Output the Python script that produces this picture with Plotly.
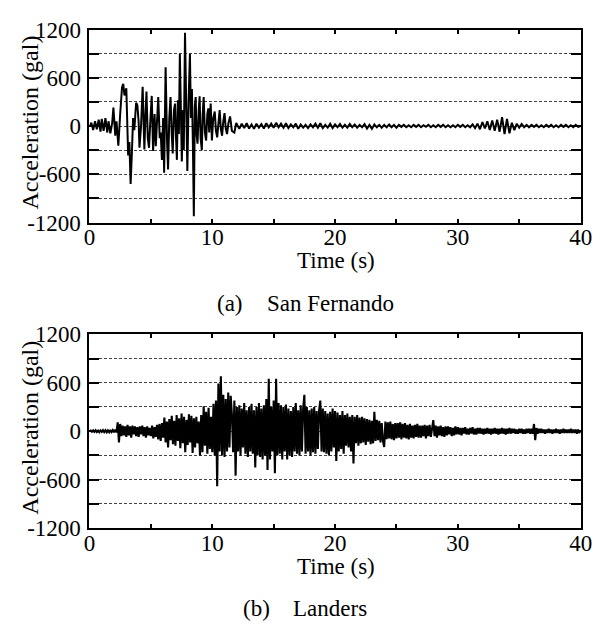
import plotly.graph_objects as go

# ---------------- data ----------------
# (a) San Fernando: strong-motion part, read peak by peak (time s, acceleration gal)
sf_t_strong = [0.0, 0.15, 0.3, 0.45, 0.6, 0.75, 0.9, 1.0, 1.15, 1.3,
               1.45, 1.55, 1.7, 1.85, 1.95, 2.1, 2.2, 2.35, 2.5, 2.65,
               2.75, 2.85, 3.0, 3.08, 3.15, 3.25, 3.35, 3.45, 3.55, 3.65,
               3.8, 3.9, 4.0, 4.07, 4.2, 4.33, 4.47, 4.55, 4.64, 4.75,
               4.85, 4.95, 5.07, 5.18, 5.3, 5.4, 5.5, 5.6, 5.72, 5.8,
               5.9, 6.0, 6.08, 6.2, 6.32, 6.4, 6.5, 6.6, 6.7, 6.78,
               6.88, 6.97, 7.05, 7.12, 7.2, 7.28, 7.36, 7.45, 7.52, 7.6,
               7.68, 7.78, 7.88, 7.97, 8.07, 8.18, 8.26, 8.34, 8.42, 8.5,
               8.58, 8.65, 8.72, 8.8, 8.9, 8.97, 9.05, 9.15, 9.22, 9.3,
               9.4, 9.5, 9.6, 9.68, 9.75, 9.87, 9.97, 10.08, 10.2, 10.3,
               10.4, 10.5, 10.6, 10.7, 10.8, 10.9, 11.0, 11.1, 11.2, 11.32,
               11.45, 11.6, 11.8, 11.95]
sf_a_strong = [0, 40, -50, 60, -40, 80, -70, 90, -60, 100,
               -80, 60, -90, 40, 230, -120, 60, -245, 150, 480,
               525, 380, 470, -100, -365, -200, -720, -350, 100, -50,
               290, 260, 60, -270, 0, 490, -290, 100, 430, -150,
               -270, 50, 375, -310, 150, -250, 100, 360, -150, -80,
               -420, 100, -580, 730, -200, -540, 100, 360, -100, -340,
               200, 280, -150, -420, 320, -100, 900, -200, -440, 200,
               -300, 1160, -100, -560, 300, 900, 100, 460, -200, -1120,
               250, 360, -100, -220, 200, 370, -150, -300, 150, 360,
               -80, -180, 150, 220, -80, 280, -180, 100, 180, -60,
               -140, 80, 200, -40, -120, 60, 160, -30, -100, 40,
               120, -60, -80, 40]
# (a) San Fernando: quiet tail, sampled every 0.2 s from 12.0 s to 40.0 s
sf_tail_start = 12.0
sf_tail_dt = 0.2
sf_a_tail = [25, -35, 30, -25, 35, -30, 20, -35, 30, -20, 25, -30, 35, -15, 30,
             -20, 40, -15, 30, -20, 35, -25, 20, -15, 30, -35, 20, -20, 15, -25,
             20, -15, 30, -20, 35, -25, 15, -20, 30, -25, 20, -15, 25, -20, 15,
             -20, 25, -15, 20, -20, 15, -15, 25, -30, 15, -35, 20, -15, 15, -20,
             15, -15, 20, -15, 15, -20, 15, -10, 15, -15, 10, -15, 15, -10, 15,
             -15, 10, -10, 15, -15, 10, -15, 15, -10, 15, -15, 10, -15, 10, -15,
             15, -10, 15, -15, 10, -15, 20, -25, 30, -40, 50, -30, 60, -50, 70,
             -60, 80, -70, 110, -100, 90, -90, 40, -50, 30, -20, 25, -15, 15, -15,
             15, -10, 15, -15, 10, -15, 15, -10, 15, -15, 10, -15, 15, -10, 15,
             -15, 10, -15, 15, -10, 0]

# (b) Landers: sampled every 0.1 s from 0 s to 40 s
la_dt = 0.1
la_a = [
    0, 8, -6, 10, -8, 12, -10, 8, -12, 10,
    -8, 14, -10, 12, -14, 10, -12, 16, -10, 14,
    -12, 18, -15, 110, -140, 90, -60, 70, -50, 60,
    -70, 80, -50, 60, -80, 70, -40, 60, -60, 50,
    -70, 60, -40, 70, -60, 50, -80, 60, -50, 40,
    -60, 70, -90, 50, -70, 80, -100, 90, -120, 100,
    -80, 170, -140, 120, -200, 150, -110, 190, -160, 130,
    -180, 200, -120, 160, -210, 220, -150, 180, -260, 140,
    -170, 210, -140, 190, -270, 160, -200, 180, -150, 120,
    -300, 200, -260, 310, -180, 240, -280, 290, -220, 180,
    -260, 340, -300, 380, -680, 590, -250, 680, -300, 450,
    -320, 400, -250, 480, -200, 440, 200, -260, 380, -550,
    300, -250, 320, -300, 280, -200, 350, -280, 260, -320,
    300, -250, 340, -280, 260, -450, 300, -300, 350, -320,
    280, -350, 320, -300, 400, -480, 650, -350, 300, -250,
    380, -520, 650, -300, 350, -280, 320, -350, 300, -250,
    330, -350, 280, -300, 250, -320, 300, -250, 350, -280,
    260, -300, 320, -250, 280, 450, -280, 300, -250, 260,
    -300, 280, -260, 300, -280, 250, -220, 260, 380, -250,
    280, -260, 250, -280, 220, -300, 240, -250, 280, -200,
    250, -370, 230, -250, 200, -220, 250, -280, 200, -180,
    220, -200, 180, -250, 200, -400, 180, -150, 200, -180,
    170, -150, 180, -140, 160, -170, 150, -130, 140, -160,
    130, -150, 240, -120, 140, -110, 130, -140, 100, -120,
    -195, 120, -100, 110, -90, 120, -100, 90, -110, 100,
    -90, 100, -80, 110, -100, 90, -80, 100, -90, 80,
    -100, 90, -80, 70, -90, 80, -70, 90, -80, 70,
    -80, 70, -60, 80, -90, 70, -60, 80, -70, 60,
    137, -60, 70, -80, 60, -50, 70, -60, 50, -70,
    60, -50, 60, -40, 50, -60, 40, -50, 60, -40,
    50, -40, 40, -50, 40, -30, 50, -40, 30, -40,
    40, -30, 50, -40, 30, -40, 40, -30, 40, -30,
    30, -40, 30, -30, 40, -30, 30, -40, 30, -30,
    40, -30, 30, -40, 30, -30, 40, -30, 30, -40,
    30, -30, 40, -30, 30, -20, 30, -30, 20, -30,
    30, -20, 30, -30, 20, -30, 30, -20, 30, -30,
    30, -30, 90, -110, 40, -30, 30, -20, 30, -20,
    20, -30, 20, -20, 30, -20, 20, -30, 20, -20,
    30, -20, 20, -30, 20, -20, 30, -20, 20, -20,
    20, -20, 30, -20, 20, -20, 20, -30, 20, -20,
    0]

x_tickvals = [0, 5, 10, 15, 20, 25, 30, 35, 40]
x_ticktext = ["0", "", "10", "", "20", "", "30", "", "40"]
y_tickvals = [-1200, -900, -600, -300, 0, 300, 600, 900, 1200]
y_ticktext = ["-1200", "", "-600", "", "0", "", "600", "", "1200"]

x_title = "Time (s)"
y_title = "Acceleration (gal)"
captions = [("(a)", "San Fernando"), ("(b)", "Landers")]

# ---------------- build ----------------
sf_t = sf_t_strong + [sf_tail_start + sf_tail_dt * i for i in range(len(sf_a_tail))]
sf_a = sf_a_strong + sf_a_tail
la_t = [la_dt * i for i in range(len(la_a))]

W, H = 614, 628
FONT = "Liberation Serif, Times New Roman, serif"
FS = 23

fig = go.Figure()
fig.add_trace(go.Scatter(x=sf_t, y=sf_a, mode="lines",
                         line=dict(color="black", width=2),
                         xaxis="x", yaxis="y", showlegend=False))
fig.add_trace(go.Scatter(x=la_t, y=la_a, mode="lines",
                         line=dict(color="black", width=2.1),
                         xaxis="x2", yaxis="y2", showlegend=False))

x_dom = [86 / W, 592 / W]
panels = [(18.3, 219.3), (335.7, 537.5)]  # pixel top/bottom of each plot area


def xaxis_cfg(anchor):
    return dict(domain=x_dom, range=[0, 40], anchor=anchor,
                tickmode="array", tickvals=x_tickvals, ticktext=x_ticktext,
                ticks="inside", ticklen=4, tickwidth=1.5, tickcolor="black",
                showline=True, linewidth=2, linecolor="black", mirror="ticks",
                showgrid=False, zeroline=False, ticklabelstandoff=-7,
                tickfont=dict(family=FONT, size=FS, color="black"))


def yaxis_cfg(anchor, top, bot):
    return dict(domain=[1 - bot / H, 1 - top / H], range=[-1200, 1200], anchor=anchor,
                tickmode="array", tickvals=y_tickvals, ticktext=y_ticktext,
                ticks="inside", ticklen=10, tickwidth=2, tickcolor="black",
                showline=True, linewidth=2, linecolor="black", mirror="ticks",
                showgrid=True, gridcolor="#444444", gridwidth=1, griddash="3px,2px",
                zeroline=False, ticklabelstandoff=2,
                tickfont=dict(family=FONT, size=FS, color="black"))


fig.update_layout(
    width=W, height=H,
    margin=dict(l=0, r=0, t=0, b=0),
    paper_bgcolor="white", plot_bgcolor="white",
    xaxis=xaxis_cfg("y"),
    yaxis=yaxis_cfg("x", *panels[0]),
    xaxis2=xaxis_cfg("y2"),
    yaxis2=yaxis_cfg("x2", *panels[1]),
)

annotations = []
for (top, bot), (lab, name) in zip(panels, captions):
    mid = (top + bot) / 2 - 4
    annotations.append(dict(text=y_title, x=25 / W, y=1 - mid / H, xref="paper", yref="paper",
                            xanchor="center", yanchor="middle", textangle=-90, showarrow=False,
                            font=dict(family=FONT, size=24, color="black")))
    annotations.append(dict(text=x_title, x=340 / W, y=1 - (bot + 40) / H, xref="paper", yref="paper",
                            xanchor="center", yanchor="middle", showarrow=False,
                            font=dict(family=FONT, size=FS, color="black")))
    cy = 1 - (bot + 84) / H
    lab_x = 215 if lab == "(a)" else 242
    annotations.append(dict(text=lab, x=lab_x / W, y=cy, xref="paper", yref="paper",
                            xanchor="left", yanchor="middle", showarrow=False,
                            font=dict(family=FONT, size=FS, color="black")))
    annotations.append(dict(text=name, x=(lab_x + 52) / W, y=cy, xref="paper", yref="paper",
                            xanchor="left", yanchor="middle", showarrow=False,
                            font=dict(family=FONT, size=FS, color="black")))
fig.update_layout(annotations=annotations)

fig.write_html("out.html")
